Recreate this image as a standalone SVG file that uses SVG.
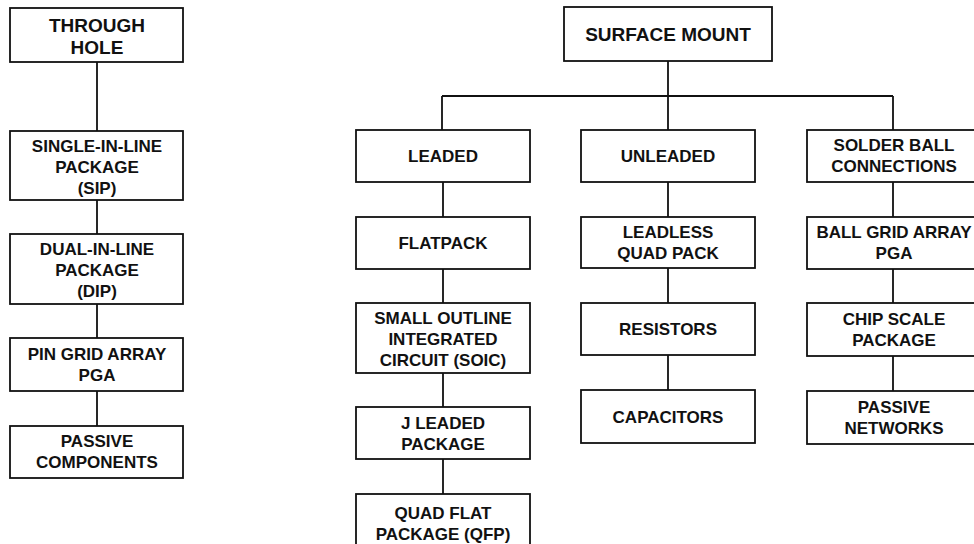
<svg xmlns="http://www.w3.org/2000/svg" width="974" height="544" viewBox="0 0 974 544">
<style>
.box{fill:#fff;stroke:#111;stroke-width:1.8}
.ln{fill:none;stroke:#111;stroke-width:1.8}
text{font-family:"Liberation Sans",Arial,sans-serif;font-weight:bold;font-size:17px;fill:#111;text-anchor:middle}
.t{font-size:19px}
</style>
<rect width="974" height="544" fill="#fff"/>
<g id="connectors">
<path class="ln" d="M97 62V131M97 200V234M97 304V338M97 391V426"/>
<path class="ln" d="M668 61V130M442 96H893M442 96V130M893 96V130"/>
<path class="ln" d="M443 182V217M443 269V303M443 373V407M443 459V494"/>
<path class="ln" d="M668 182V217M668 268V303M668 355V390"/>
<path class="ln" d="M893 182V217M893 269V303M893 356V391"/>
</g>
<g id="through-hole"><rect class="box" x="10" y="8" width="173" height="54"/><text class="t" x="97" y="32">THROUGH</text><text class="t" x="97" y="54">HOLE</text></g>
<g id="sip"><rect class="box" x="10" y="131" width="173" height="69"/><text x="97" y="152">SINGLE-IN-LINE</text><text x="97" y="173">PACKAGE</text><text x="97" y="194">(SIP)</text></g>
<g id="dip"><rect class="box" x="10" y="234" width="173" height="70"/><text x="97" y="255">DUAL-IN-LINE</text><text x="97" y="276">PACKAGE</text><text x="97" y="297">(DIP)</text></g>
<g id="pga"><rect class="box" x="10" y="338" width="173" height="53"/><text x="97" y="360">PIN GRID ARRAY</text><text x="97" y="381">PGA</text></g>
<g id="passive-components"><rect class="box" x="10" y="426" width="173" height="52"/><text x="97" y="447">PASSIVE</text><text x="97" y="468">COMPONENTS</text></g>
<g id="surface-mount"><rect class="box" x="564" y="7" width="208" height="54"/><text class="t" x="668" y="41">SURFACE MOUNT</text></g>
<g id="leaded"><rect class="box" x="356" y="130" width="174" height="52"/><text x="443" y="162">LEADED</text></g>
<g id="flatpack"><rect class="box" x="356" y="217" width="174" height="52"/><text x="443" y="249">FLATPACK</text></g>
<g id="soic"><rect class="box" x="356" y="303" width="174" height="70"/><text x="443" y="324">SMALL OUTLINE</text><text x="443" y="345">INTEGRATED</text><text x="443" y="366">CIRCUIT (SOIC)</text></g>
<g id="j-leaded"><rect class="box" x="356" y="407" width="174" height="52"/><text x="443" y="429">J LEADED</text><text x="443" y="450">PACKAGE</text></g>
<g id="qfp"><rect class="box" x="356" y="494" width="174" height="60"/><text x="443" y="519">QUAD FLAT</text><text x="443" y="540">PACKAGE (QFP)</text></g>
<g id="unleaded"><rect class="box" x="581" y="130" width="174" height="52"/><text x="668" y="162">UNLEADED</text></g>
<g id="leadless-quad-pack"><rect class="box" x="581" y="217" width="174" height="51"/><text x="668" y="238">LEADLESS</text><text x="668" y="259">QUAD PACK</text></g>
<g id="resistors"><rect class="box" x="581" y="303" width="174" height="52"/><text x="668" y="335">RESISTORS</text></g>
<g id="capacitors"><rect class="box" x="581" y="390" width="174" height="53"/><text x="668" y="423">CAPACITORS</text></g>
<g id="solder-ball"><rect class="box" x="807" y="130" width="174" height="52"/><text x="894" y="151">SOLDER BALL</text><text x="894" y="172">CONNECTIONS</text></g>
<g id="bga"><rect class="box" x="807" y="217" width="174" height="52"/><text x="894" y="238">BALL GRID ARRAY</text><text x="894" y="259">PGA</text></g>
<g id="chip-scale"><rect class="box" x="807" y="303" width="174" height="53"/><text x="894" y="325">CHIP SCALE</text><text x="894" y="346">PACKAGE</text></g>
<g id="passive-networks"><rect class="box" x="807" y="391" width="174" height="53"/><text x="894" y="413">PASSIVE</text><text x="894" y="434">NETWORKS</text></g>
</svg>
